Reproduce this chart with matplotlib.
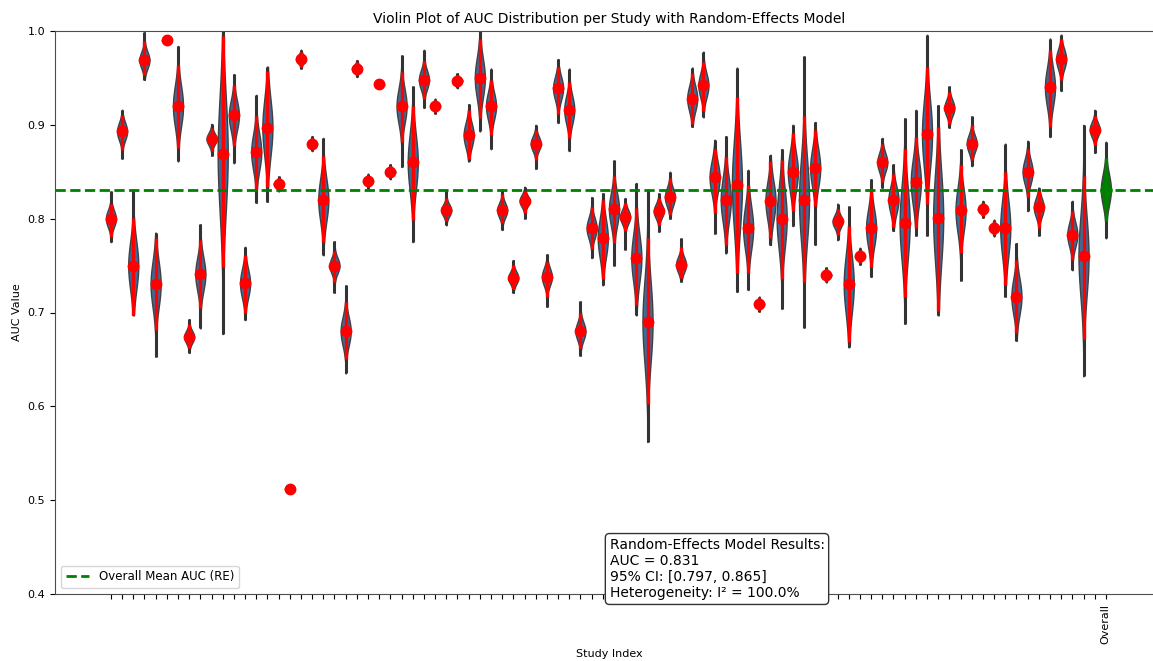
import matplotlib
matplotlib.use("Agg")
import matplotlib.pyplot as plt
import numpy as np

# per-study AUC summaries
auc_mean = [0.800, 0.893, 0.750, 0.969, 0.730, 0.990, 0.920, 0.674, 0.741, 0.885,
            0.869, 0.910, 0.731, 0.871, 0.897, 0.837, 0.512, 0.970, 0.880, 0.820,
            0.750, 0.680, 0.960, 0.840, 0.943, 0.850, 0.920, 0.860, 0.948, 0.920,
            0.809, 0.947, 0.889, 0.950, 0.920, 0.809, 0.737, 0.819, 0.880, 0.738,
            0.939, 0.916, 0.680, 0.790, 0.779, 0.810, 0.802, 0.758, 0.690, 0.808,
            0.823, 0.751, 0.928, 0.942, 0.844, 0.820, 0.836, 0.790, 0.709, 0.819,
            0.800, 0.850, 0.820, 0.854, 0.740, 0.797, 0.730, 0.760, 0.790, 0.860,
            0.820, 0.795, 0.839, 0.890, 0.801, 0.918, 0.809, 0.880, 0.810, 0.790,
            0.790, 0.717, 0.850, 0.812, 0.940, 0.970, 0.783, 0.760, 0.895]
ci_low = [0.780, 0.873, 0.697, 0.953, 0.681, 0.988, 0.875, 0.662, 0.705, 0.872,
          0.748, 0.877, 0.699, 0.831, 0.834, 0.831, 0.510, 0.962, 0.874, 0.775,
          0.733, 0.650, 0.953, 0.834, 0.941, 0.844, 0.882, 0.799, 0.927, 0.914,
          0.797, 0.941, 0.864, 0.907, 0.889, 0.795, 0.725, 0.806, 0.863, 0.717,
          0.912, 0.886, 0.662, 0.768, 0.736, 0.774, 0.787, 0.708, 0.602, 0.793,
          0.804, 0.737, 0.901, 0.915, 0.806, 0.772, 0.742, 0.742, 0.703, 0.779,
          0.736, 0.808, 0.733, 0.813, 0.734, 0.783, 0.669, 0.753, 0.749, 0.839,
          0.791, 0.717, 0.790, 0.816, 0.702, 0.901, 0.763, 0.863, 0.803, 0.783,
          0.729, 0.678, 0.823, 0.790, 0.898, 0.948, 0.756, 0.672, 0.878]
ci_high = [0.816, 0.911, 0.801, 0.989, 0.779, 0.992, 0.964, 0.688, 0.777, 0.897,
           0.995, 0.942, 0.761, 0.909, 0.957, 0.843, 0.514, 0.978, 0.886, 0.867,
           0.766, 0.711, 0.967, 0.846, 0.945, 0.856, 0.956, 0.920, 0.968, 0.926,
           0.822, 0.953, 0.916, 0.992, 0.948, 0.826, 0.751, 0.830, 0.894, 0.754,
           0.962, 0.946, 0.700, 0.812, 0.820, 0.845, 0.817, 0.811, 0.779, 0.822,
           0.843, 0.770, 0.955, 0.967, 0.874, 0.866, 0.930, 0.836, 0.715, 0.861,
           0.863, 0.891, 0.909, 0.895, 0.746, 0.810, 0.792, 0.767, 0.829, 0.880,
           0.848, 0.874, 0.887, 0.962, 0.898, 0.935, 0.857, 0.900, 0.817, 0.797,
           0.850, 0.756, 0.874, 0.829, 0.980, 0.991, 0.808, 0.845, 0.909]
range_low = [0.775, 0.864, 0.697, 0.948, 0.653, 0.987, 0.861, 0.657, 0.683, 0.867,
             0.677, 0.859, 0.692, 0.817, 0.818, 0.829, 0.509, 0.960, 0.872, 0.761,
             0.721, 0.635, 0.951, 0.832, 0.940, 0.842, 0.855, 0.775, 0.918, 0.912,
             0.793, 0.939, 0.861, 0.893, 0.874, 0.788, 0.721, 0.800, 0.853, 0.706,
             0.902, 0.872, 0.654, 0.758, 0.729, 0.750, 0.767, 0.697, 0.562, 0.786,
             0.800, 0.733, 0.898, 0.908, 0.784, 0.763, 0.722, 0.724, 0.701, 0.772,
             0.704, 0.792, 0.684, 0.772, 0.732, 0.777, 0.663, 0.751, 0.738, 0.833,
             0.787, 0.688, 0.782, 0.782, 0.697, 0.897, 0.734, 0.856, 0.801, 0.781,
             0.717, 0.670, 0.808, 0.782, 0.887, 0.936, 0.745, 0.632, 0.870]
range_high = [0.829, 0.916, 0.831, 0.999, 0.785, 0.993, 0.984, 0.693, 0.794, 0.901,
              1.005, 0.954, 0.770, 0.932, 0.962, 0.845, 0.515, 0.980, 0.888, 0.886,
              0.776, 0.729, 0.969, 0.848, 0.946, 0.858, 0.974, 0.941, 0.980, 0.928,
              0.831, 0.955, 0.922, 1.005, 0.960, 0.831, 0.756, 0.834, 0.900, 0.762,
              0.970, 0.960, 0.712, 0.823, 0.827, 0.862, 0.822, 0.838, 0.831, 0.827,
              0.850, 0.779, 0.961, 0.978, 0.884, 0.888, 0.961, 0.852, 0.717, 0.868,
              0.874, 0.900, 0.973, 0.903, 0.748, 0.816, 0.813, 0.769, 0.842, 0.886,
              0.858, 0.907, 0.916, 0.996, 0.921, 0.941, 0.874, 0.909, 0.819, 0.799,
              0.880, 0.774, 0.883, 0.833, 0.992, 0.996, 0.819, 0.900, 0.916]

# random-effects pooled result
re_auc = 0.831
re_ci = (0.797, 0.865)
re_range = (0.779, 0.882)
i2 = 100.0

n = len(auc_mean)
positions = list(range(n + 1))
tick_labels = [""] * n + ["Overall"]


def violin_stats(mean, lo_ci, hi_ci, lo, hi):
    coords = np.linspace(lo, hi, 120)
    sd = max((hi_ci - lo_ci) / 4.0, 1e-4)
    vals = np.exp(-0.5 * ((coords - mean) / sd) ** 2)
    return {"coords": coords, "vals": vals, "mean": mean, "median": mean,
            "min": lo, "max": hi}


fig = plt.figure(figsize=(11.53, 6.61), dpi=100)
ax = fig.add_axes([55 / 1153, 67 / 661, 1109 / 1153, 563 / 661])

stats = [violin_stats(m, a, b, c, d) for m, a, b, c, d in
         zip(auc_mean, ci_low, ci_high, range_low, range_high)]
parts = ax.violin(stats, positions=positions[:n], widths=0.9,
                  showmeans=False, showextrema=False, showmedians=False)
for body in parts["bodies"]:
    body.set_facecolor("#3a6d9b")
    body.set_edgecolor("#404040")
    body.set_linewidth(1.0)
    body.set_alpha(1.0)

overall = ax.violin([violin_stats(re_auc, re_ci[0], re_ci[1], *re_range)],
                    positions=[n], widths=0.9, showmeans=False,
                    showextrema=False, showmedians=False)
for body in overall["bodies"]:
    body.set_facecolor("green")
    body.set_edgecolor("#404040")
    body.set_linewidth(1.0)
    body.set_alpha(1.0)

ax.vlines(positions[:n], range_low, range_high, color="#333333", linewidth=2.2, zorder=2)
ax.vlines([n], re_range[0], re_range[1], color="#333333", linewidth=2.2, zorder=2)

means = np.array(auc_mean)
yerr = [means - np.array(ci_low), np.array(ci_high) - means]
ax.errorbar(positions[:n], means, yerr=yerr, fmt="o", color="red",
            markersize=7.5, elinewidth=2.4, capsize=0, zorder=3)
ax.errorbar([n], [re_auc], yerr=[[re_auc - re_ci[0]], [re_ci[1] - re_auc]],
            fmt="o", color="green", markersize=8, elinewidth=2.4, capsize=0, zorder=3)

ax.axhline(re_auc, color="green", linestyle="--", linewidth=2,
           label="Overall Mean AUC (RE)", zorder=4)

ax.set_xlim(-5, 94.2)
ax.set_ylim(0.4, 1.0)
ax.set_xticks(positions)
ax.set_xticklabels(tick_labels, rotation=90, fontsize=8)
ax.set_yticks(np.arange(0.4, 1.01, 0.1))
ax.tick_params(axis="y", labelsize=8)
ax.set_xlabel("Study Index", fontsize=8)
ax.set_ylabel("AUC Value", fontsize=8)
ax.set_title("Violin Plot of AUC Distribution per Study with Random-Effects Model",
             fontsize=10)
for side in ["top", "left", "bottom"]:
    ax.spines[side].set_color("0.3")
ax.spines["right"].set_visible(False)

ax.legend(loc="lower left", fontsize=8.5)

summary = (f"Random-Effects Model Results:\nAUC = {re_auc:.3f}\n"
           f"95% CI: [{re_ci[0]:.3f}, {re_ci[1]:.3f}]\n"
           f"Heterogeneity: I\u00b2 = {i2:.1f}%")
ax.text(0.5, 0.1, summary, transform=ax.transAxes, fontsize=10, va="top", ha="left",
        bbox=dict(boxstyle="round", facecolor="white", edgecolor="0.2"), zorder=5)

fig.savefig("out.png", dpi=100)
